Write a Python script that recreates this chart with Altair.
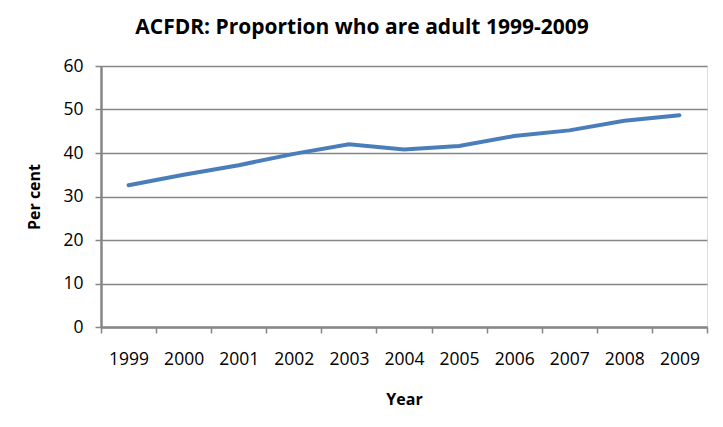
import altair as alt
import pandas as pd

years = ["1999", "2000", "2001", "2002", "2003", "2004", "2005", "2006", "2007", "2008", "2009"]
percent = [32.6, 35.0, 37.2, 39.8, 42.0, 40.8, 41.6, 43.9, 45.2, 47.4, 48.7]

df = pd.DataFrame({"Year": years, "Percent": percent})

FONT = "Open Sans"
GRAY = "#868686"

chart = alt.Chart(df).mark_line(color="#4A7EBB", strokeWidth=4, strokeCap="round").encode(
    x=alt.X("Year:O", sort=years,
            scale=alt.Scale(paddingInner=0, paddingOuter=0),
            axis=alt.Axis(title="Year", labelAngle=0, tickBand="extent",
                          domainColor=GRAY, domainWidth=2.5, tickColor=GRAY, tickWidth=1.5,
                          tickSize=6, labelPadding=17, labelFontSize=17.5, labelFont=FONT,
                          labelColor="black", titleFont=FONT, titleFontSize=16,
                          titleFontWeight="bold", titlePadding=24, titleColor="black",
                          grid=False)),
    y=alt.Y("Percent:Q", scale=alt.Scale(domain=[0, 60], nice=False),
            axis=alt.Axis(title="Per cent", values=[0, 10, 20, 30, 40, 50, 60],
                          domainColor=GRAY, domainWidth=2.5, tickColor=GRAY, tickWidth=1.5,
                          tickSize=6, labelPadding=12, labelFontSize=17.5, labelFont=FONT,
                          labelColor="black", titleFont=FONT, titleFontSize=16,
                          titleFontWeight="bold", titlePadding=20, titleColor="black",
                          grid=True, gridColor=GRAY, gridWidth=1.5)),
).properties(
    width=606,
    height=261,
    title=alt.TitleParams("ACFDR: Proportion who are adult 1999-2009", font=FONT,
                          fontSize=21, fontWeight="bold", color="black", offset=19,
                          anchor="middle", dx=-42),
    autosize=alt.AutoSizeParams(type="none"),
    padding={"left": 93, "top": 58, "right": 8, "bottom": 92},
).configure_view(
    fill="#F4ECEA", stroke=None
).configure(background="white")

chart.save("out.html", embed_options={"renderer": "svg", "actions": False})
